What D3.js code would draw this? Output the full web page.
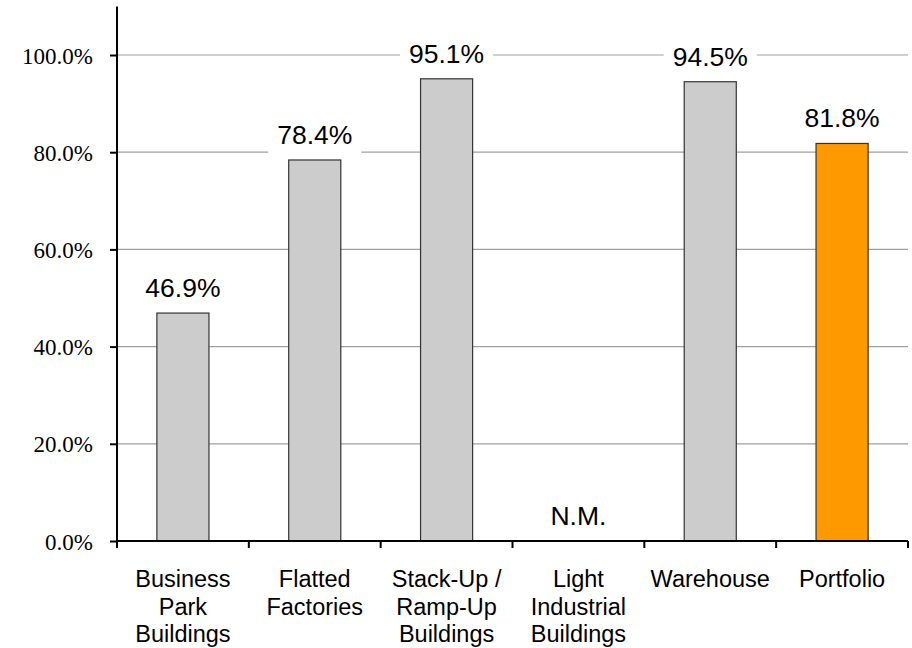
<!DOCTYPE html>
<html><head><meta charset="utf-8">
<script src="https://cdn.jsdelivr.net/npm/d3@7/dist/d3.min.js"></script>
<style>body{margin:0;background:#fff} .yt text{font-family:'Liberation Serif','Times New Roman',serif !important;}</style>
</head><body>
<svg id="c" width="912" height="648"></svg>
<script>
const categories = [["Business","Park","Buildings"],["Flatted","Factories"],["Stack-Up /","Ramp-Up","Buildings"],["Light","Industrial","Buildings"],["Warehouse"],["Portfolio"]];
const values = [0.469, 0.784, 0.951, 0, 0.945, 0.818];
const labels = ["46.9%","78.4%","95.1%","N.M.","94.5%","81.8%"];
const colors = ["#cccccc","#cccccc","#cccccc","#cccccc","#cccccc","#ff9900"];
const yTicks = [0,0.2,0.4,0.6,0.8,1.0];

const svg = d3.select("#c");
const left = 117, right = 908, y0 = 541, y100 = 55;
const x = d3.scaleBand().domain(d3.range(categories.length)).range([left,right]).paddingInner(0).paddingOuter(0);
const y = d3.scaleLinear().domain([0,1]).range([y0,y100]);
const bw = x.bandwidth()*0.395;

// gridlines
svg.append("g").selectAll("line").data(yTicks.filter(d=>d>0)).join("line")
  .attr("x1",left).attr("x2",right).attr("y1",d=>y(d)).attr("y2",d=>y(d))
  .attr("stroke","#a0a0a0").attr("stroke-width",1.2);

// bars
svg.append("g").selectAll("rect").data(values).join("rect")
  .attr("x",(d,i)=>x(i)+x.bandwidth()/2-bw/2).attr("width",bw)
  .attr("y",d=>y(d)).attr("height",d=>y0-y(d))
  .attr("fill",(d,i)=>colors[i]).attr("stroke",(d)=>d>0?"#333":"none").attr("stroke-width",1.2);

// value labels with white boxes
const lg = svg.append("g");
values.forEach((v,i)=>{
  const cx = x(i)+x.bandwidth()/2, by = y(v)-16;
  const t = lg.append("text").attr("x",cx).attr("y",by).attr("text-anchor","middle")
    .attr("font-family","'Liberation Sans', Arial, sans-serif").attr("font-size",26.5).attr("fill","#000").text(labels[i]);
  const w = t.node().getComputedTextLength();
  lg.insert("rect","text").attr("x",cx-w/2-9).attr("y",by-25).attr("width",w+18).attr("height",39).attr("fill","#fff");
});

// y axis
const ya = svg.append("g").attr("class","yt").attr("transform",`translate(${left},0)`)
  .call(d3.axisLeft(y).tickValues(yTicks).tickFormat(d3.format(".1%")).tickSize(7).tickSizeOuter(0));
ya.attr("font-family","'Liberation Serif', serif");
ya.select(".domain").remove();
ya.selectAll(".tick line").attr("stroke","#000").attr("stroke-width",2);
ya.selectAll(".tick text").attr("x",-24).attr("dy","0.35em").attr("font-size",23).attr("fill","#000");
svg.append("line").attr("x1",left).attr("x2",left).attr("y1",y(1.1)).attr("y2",y0+1).attr("stroke","#000").attr("stroke-width",2);

// x axis
const xa = svg.append("g").attr("transform",`translate(0,${y0})`);
xa.append("line").attr("x1",left-1).attr("x2",right).attr("y1",0).attr("y2",0).attr("stroke","#000").attr("stroke-width",2);
xa.selectAll("line.tk").data(d3.range(categories.length+1)).join("line").attr("class","tk")
  .attr("x1",d=>left+d*x.bandwidth()).attr("x2",d=>left+d*x.bandwidth()).attr("y1",0).attr("y2",7)
  .attr("stroke","#000").attr("stroke-width",2);
categories.forEach((lines,i)=>{
  const t = xa.append("text").attr("text-anchor","middle").attr("font-family","'Liberation Sans', Arial, sans-serif")
    .attr("font-size",23.5).attr("fill","#000");
  lines.forEach((l,j)=>t.append("tspan").attr("x",x(i)+x.bandwidth()/2).attr("y",46+j*27.5).text(l));
});
</script>
</body></html>
